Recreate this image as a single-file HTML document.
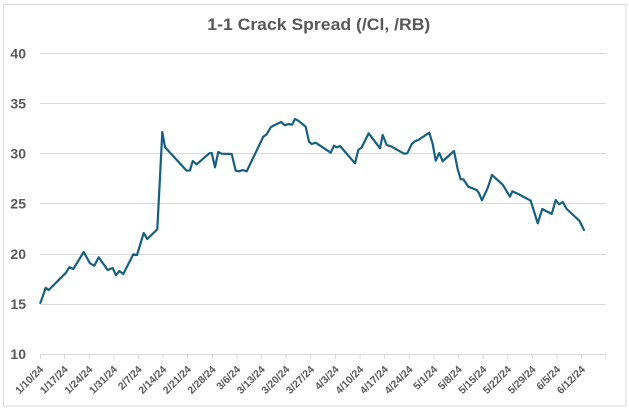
<!DOCTYPE html>
<html><head><meta charset="utf-8"><style>
html,body{margin:0;padding:0;background:#fff;}
svg{display:block;}
text{font-family:"Liberation Sans",Arial,sans-serif;fill:#595959;}
</style></head><body>
<svg width="629" height="410" viewBox="0 0 629 410" xmlns="http://www.w3.org/2000/svg">
<rect x="0" y="0" width="629" height="410" fill="#fff"/>
<rect x="3.5" y="4.5" width="622.5" height="401.5" fill="none" stroke="#d9d9d9" stroke-width="1"/>
<text x="207.3" y="30" font-size="16.5" font-weight="bold" textLength="223" lengthAdjust="spacingAndGlyphs">1-1 Crack Spread (/Cl, /RB)</text>
<g stroke="#d9d9d9" stroke-width="1">
<line x1="40" y1="53.5" x2="606" y2="53.5"/>
<line x1="40" y1="103.5" x2="606" y2="103.5"/>
<line x1="40" y1="153.5" x2="606" y2="153.5"/>
<line x1="40" y1="203.5" x2="606" y2="203.5"/>
<line x1="40" y1="254.5" x2="606" y2="254.5"/>
<line x1="40" y1="304.5" x2="606" y2="304.5"/>
<line x1="40" y1="354.5" x2="606" y2="354.5"/>
</g>
<g font-size="14" font-weight="bold" text-anchor="end">
<text x="26" y="58.5">40</text>
<text x="26" y="108.5">35</text>
<text x="26" y="158.5">30</text>
<text x="26" y="208.5">25</text>
<text x="26" y="259">20</text>
<text x="26" y="309">15</text>
<text x="26" y="359">10</text>
</g>
<polyline fill="none" stroke="#156082" stroke-width="2.2" stroke-linejoin="round" stroke-linecap="round" points="40.3,303 41.7,299.3 45.7,287.7 48.7,290 66,272.7 69.3,267.3 73.3,269 83.7,252 90,263.3 94.3,265.7 98.7,257.3 107.7,270 112.7,268 116,275.3 119.3,271 123.3,274 133.3,254.3 137,255 143.7,233 147.3,239 157.3,229.3 162.3,132 165,147.3 168.3,150.7 186.7,170.7 190,170.3 192.7,161 196.7,164.3 209.3,153.3 211.7,153 215,167.3 218.3,152 221.7,153.7 231.7,154 235.7,170.7 239.3,171.3 242.7,170 246.7,171.3 263.3,136.7 266.7,134.3 270.7,127.3 273.3,125.7 281,122 285,125.3 288.3,124 292,124.7 295,119 298.3,120.7 305.7,126.7 309,141.7 311.7,144 315.7,142.7 330.7,152.7 334,145.7 336.7,147.3 340,146 355,163.3 358.3,150 361.7,147.3 368.7,133.3 380,148.3 382.7,135 386.7,145 391.7,146.7 404,153.7 407.3,153.3 411.7,144 415,141.3 418.3,140 429.3,132.7 432.7,144 435.7,160.7 439.3,153 442.7,161.3 454,151 457.7,169.3 460.7,179.3 463.3,179.3 468.3,186.7 476.7,190 478.7,192.7 482,200.3 487.7,188 492,175 502.7,184.7 510,196.7 512.3,191.3 518.3,194 530.7,200.7 537.7,223.3 542.3,209 551.7,214 555.7,200 559,204.3 562.7,202 566.7,209 579.3,220.7 584,230"/>
<g stroke="#d9d9d9" stroke-width="1">
<line x1="40.5" y1="354" x2="40.5" y2="359"/><line x1="64.6" y1="354" x2="64.6" y2="359"/><line x1="89.2" y1="354" x2="89.2" y2="359"/><line x1="113.9" y1="354" x2="113.9" y2="359"/><line x1="138.5" y1="354" x2="138.5" y2="359"/><line x1="163.1" y1="354" x2="163.1" y2="359"/><line x1="187.7" y1="354" x2="187.7" y2="359"/><line x1="212.3" y1="354" x2="212.3" y2="359"/><line x1="237" y1="354" x2="237" y2="359"/><line x1="261.6" y1="354" x2="261.6" y2="359"/><line x1="286.2" y1="354" x2="286.2" y2="359"/><line x1="310.8" y1="354" x2="310.8" y2="359"/><line x1="335.4" y1="354" x2="335.4" y2="359"/><line x1="360.1" y1="354" x2="360.1" y2="359"/><line x1="384.7" y1="354" x2="384.7" y2="359"/><line x1="409.3" y1="354" x2="409.3" y2="359"/><line x1="433.9" y1="354" x2="433.9" y2="359"/><line x1="458.6" y1="354" x2="458.6" y2="359"/><line x1="483.2" y1="354" x2="483.2" y2="359"/><line x1="507.8" y1="354" x2="507.8" y2="359"/><line x1="532.4" y1="354" x2="532.4" y2="359"/><line x1="557" y1="354" x2="557" y2="359"/><line x1="581.7" y1="354" x2="581.7" y2="359"/><line x1="605.8" y1="354" x2="605.8" y2="359"/>
</g>
<g font-size="10.4" font-weight="bold" text-anchor="end">
<text transform="translate(44,370) rotate(-45)">1/10/24</text>
<text transform="translate(68.6,370) rotate(-45)">1/17/24</text>
<text transform="translate(93.2,370) rotate(-45)">1/24/24</text>
<text transform="translate(117.9,370) rotate(-45)">1/31/24</text>
<text transform="translate(142.5,370) rotate(-45)">2/7/24</text>
<text transform="translate(167.1,370) rotate(-45)">2/14/24</text>
<text transform="translate(191.7,370) rotate(-45)">2/21/24</text>
<text transform="translate(216.3,370) rotate(-45)">2/28/24</text>
<text transform="translate(241,370) rotate(-45)">3/6/24</text>
<text transform="translate(265.6,370) rotate(-45)">3/13/24</text>
<text transform="translate(290.2,370) rotate(-45)">3/20/24</text>
<text transform="translate(314.8,370) rotate(-45)">3/27/24</text>
<text transform="translate(339.4,370) rotate(-45)">4/3/24</text>
<text transform="translate(364.1,370) rotate(-45)">4/10/24</text>
<text transform="translate(388.7,370) rotate(-45)">4/17/24</text>
<text transform="translate(413.3,370) rotate(-45)">4/24/24</text>
<text transform="translate(437.9,370) rotate(-45)">5/1/24</text>
<text transform="translate(462.6,370) rotate(-45)">5/8/24</text>
<text transform="translate(487.2,370) rotate(-45)">5/15/24</text>
<text transform="translate(511.8,370) rotate(-45)">5/22/24</text>
<text transform="translate(536.4,370) rotate(-45)">5/29/24</text>
<text transform="translate(561,370) rotate(-45)">6/5/24</text>
<text transform="translate(585.7,370) rotate(-45)">6/12/24</text>
</g>
</svg>
</body></html>
